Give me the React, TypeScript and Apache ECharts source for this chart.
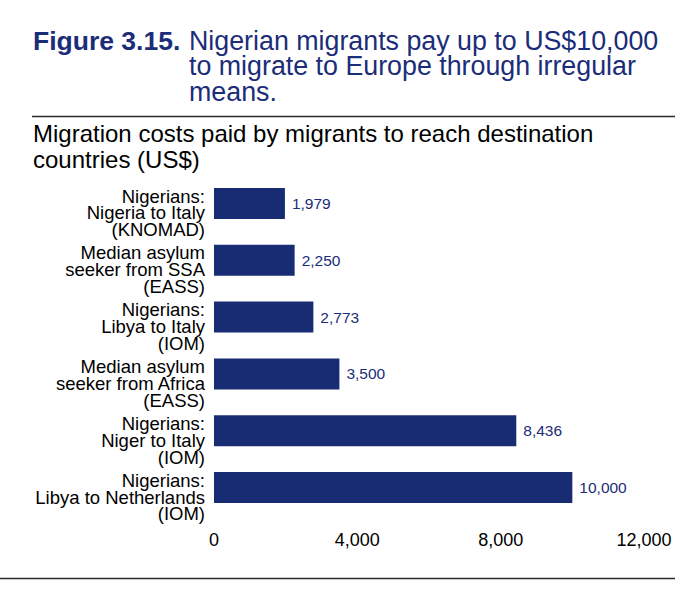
import React, { useEffect, useRef } from "react";
import * as echarts from "echarts";

const categories = [
  "Nigerians:\nNigeria to Italy\n(KNOMAD)",
  "Median asylum\nseeker from SSA\n(EASS)",
  "Nigerians:\nLibya to Italy\n(IOM)",
  "Median asylum\nseeker from Africa\n(EASS)",
  "Nigerians:\nNiger to Italy\n(IOM)",
  "Nigerians:\nLibya to Netherlands\n(IOM)",
];
const costs = [1979, 2250, 2773, 3500, 8436, 10000];
const xTicks = { min: 0, max: 12000, interval: 4000 };

const titleBold = "Figure 3.15.";
const titleLines = [
  "Nigerian migrants pay up to US$10,000",
  "to migrate to Europe through irregular",
  "means.",
];
const subtitleLines = [
  "Migration costs paid by migrants to reach destination",
  "countries (US$)",
];

const NAVY = "#1b2d78";
const BAR = "#182c74";
const FONT = "'Liberation Sans', Arial, Helvetica, sans-serif";

const fmt = (v: number) => v.toLocaleString("en-US");

export default function App() {
  const ref = useRef<HTMLDivElement>(null);
  useEffect(() => {
    if (!ref.current) return;
    const chart = echarts.init(ref.current, undefined, { renderer: "svg" });
    const g: any[] = [];
    g.push({
      type: "text",
      x: 33,
      y: 40.5,
      style: {
        text: titleBold,
        fontFamily: FONT,
        fontSize: 26.5,
        fontWeight: "bold",
        fill: NAVY,
        verticalAlign: "middle",
      },
    });
    titleLines.forEach((t, i) => {
      g.push({
        type: "text",
        x: 189,
        y: 40.5 + i * 25.5,
        style: {
          text: t,
          fontFamily: FONT,
          fontSize: 26.8,
          fill: NAVY,
          verticalAlign: "middle",
        },
      });
    });
    subtitleLines.forEach((t, i) => {
      g.push({
        type: "text",
        x: 33,
        y: 133.5 + i * 26,
        style: {
          text: t,
          fontFamily: FONT,
          fontSize: 24,
          fill: "#000",
          verticalAlign: "middle",
        },
      });
    });
    g.push({
      type: "line",
      shape: { x1: 32, y1: 116.5, x2: 675, y2: 116.5 },
      style: { stroke: "#2a2a2a", lineWidth: 1.3 },
    });
    g.push({
      type: "line",
      shape: { x1: 0, y1: 578.5, x2: 675, y2: 578.5 },
      style: { stroke: "#2a2a2a", lineWidth: 1.3 },
    });

    chart.setOption({
      animation: false,
      textStyle: { fontFamily: FONT },
      grid: [
        { left: 214, right: 54, top: 175, bottom: 88, containLabel: false },
        { left: 214, right: 54, top: 184.5, bottom: 78.5, containLabel: false },
      ],
      xAxis: [
        {
          type: "value",
          gridIndex: 0,
          min: xTicks.min,
          max: xTicks.max,
          interval: xTicks.interval,
          axisLine: { show: false },
          axisTick: { show: false },
          splitLine: { show: false },
          axisLabel: {
            color: "#000",
            fontSize: 18,
            fontFamily: FONT,
            margin: 15,
            formatter: (v: number) => fmt(v),
          },
        },
        {
          type: "value",
          gridIndex: 1,
          min: xTicks.min,
          max: xTicks.max,
          show: false,
        },
      ],
      yAxis: [
        {
          type: "category",
          gridIndex: 0,
          data: categories,
          inverse: true,
          axisLine: { show: false },
          axisTick: { show: false },
          splitLine: { show: false },
          axisLabel: { show: false },
        },
        {
          type: "category",
          gridIndex: 1,
          data: categories,
          inverse: true,
          axisLine: { show: false },
          axisTick: { show: false },
          splitLine: { show: false },
          axisLabel: {
            interval: 0,
            color: "#000",
            fontSize: 18.5,
            lineHeight: 16.8,
            fontFamily: FONT,
            margin: 9,
            align: "right",
          },
        },
      ],
      series: [
        {
          type: "bar",
          xAxisIndex: 0,
          yAxisIndex: 0,
          data: costs,
          barWidth: 31,
          itemStyle: { color: BAR },
          label: {
            show: true,
            position: "right",
            distance: 7,
            color: NAVY,
            fontSize: 15.5,
            fontFamily: FONT,
            formatter: (p: any) => fmt(p.value),
          },
        },
      ],
      graphic: g,
    });
    return () => chart.dispose();
  }, []);
  return (
    <div
      ref={ref}
      style={{ position: "fixed", left: 0, top: 0, width: 698, height: 604, background: "#fff" }}
    />
  );
}
